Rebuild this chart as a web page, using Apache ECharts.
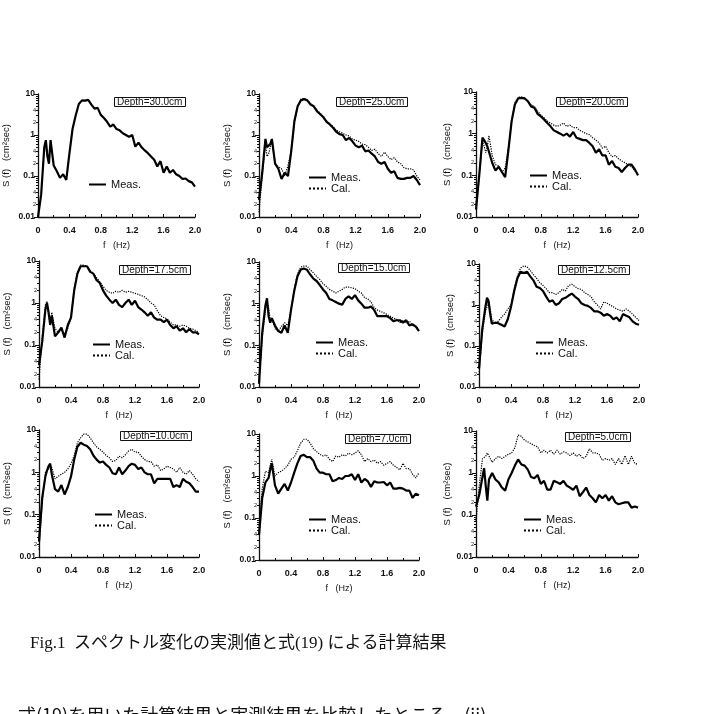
<!DOCTYPE html>
<html>
<head>
<meta charset="utf-8">
<script src="https://cdn.jsdelivr.net/npm/echarts@6/dist/echarts.min.js"></script>
<style>
  html, body { margin: 0; padding: 0; background: #fff; }
  #chart { width: 708px; height: 714px; }
</style>
</head>
<body>
<div id="chart"></div>
<script>
// frequency samples (Hz), shared by every curve
const freq = [0, 0.04, 0.08, 0.1, 0.12, 0.14, 0.16, 0.2, 0.24, 0.28, 0.32, 0.36, 0.4, 0.44, 0.48, 0.52, 0.56, 0.6,
  0.64, 0.68, 0.72, 0.76, 0.8, 0.84, 0.88, 0.92, 0.96, 1.0, 1.04, 1.08, 1.12, 1.16, 1.2, 1.24, 1.28, 1.32, 1.36,
  1.4, 1.44, 1.48, 1.52, 1.56, 1.6, 1.64, 1.68, 1.72, 1.76, 1.8, 1.84, 1.88, 1.92, 1.96, 2.0]

const depths = ['Depth=30.0cm', 'Depth=25.0cm', 'Depth=20.0cm', 'Depth=17.5cm', 'Depth=15.0cm',
  'Depth=12.5cm', 'Depth=10.0cm', 'Depth=7.0cm', 'Depth=5.0cm']

const xTicks = [0, 0.4, 0.8, 1.2, 1.6, 2.0]
const yMinorLabels = [0.02, 0.04, 0.2, 0.4, 2, 4]
const yMinorTicks = [0.02, 0.03, 0.04, 0.05, 0.06, 0.07, 0.08, 0.09, 0.2, 0.3, 0.4, 0.5, 0.6, 0.7, 0.8, 0.9,
  2, 3, 4, 5, 6, 7, 8, 9]

// S(f) in cm^2 sec
const meas30 = [0.01, 0.035, 0.5, 0.75, 0.3, 0.2, 0.75, 0.18, 0.13, 0.09, 0.11, 0.08, 0.35, 1.4, 3.0, 5.7, 7, 6.9,
  7.2, 5.5, 4.4, 4.6, 3.1, 2.6, 2.1, 1.6, 1.8, 1.4, 1.3, 1.1, 1.0, 0.9, 1.0, 0.52, 0.65, 0.5, 0.42, 0.36, 0.3,
  0.25, 0.17, 0.23, 0.12, 0.17, 0.12, 0.14, 0.11, 0.1, 0.085, 0.087, 0.075, 0.07, 0.055]

const meas25 = [0.026, 0.12, 0.8, 0.5, 0.45, 0.6, 0.8, 0.2, 0.15, 0.085, 0.12, 0.1, 0.4, 2.2, 5, 7, 7.5, 7,
  5.5, 5, 3.8, 3.2, 2.7, 2.1, 1.8, 1.5, 1.2, 1.05, 1.0, 0.75, 0.85, 0.7, 0.55, 0.5, 0.55, 0.4, 0.42, 0.35, 0.3,
  0.22, 0.2, 0.22, 0.15, 0.12, 0.13, 0.09, 0.085, 0.085, 0.09, 0.09, 0.1, 0.08, 0.06]
const cal25 = [0.013, 0.1, 0.6, 0.3, 0.35, 0.5, 0.7, 0.2, 0.17, 0.15, 0.1, 0.18, 0.4, 2.0, 4.8, 7.5, 7.8, 7,
  6, 5, 4, 3.4, 2.8, 2.2, 1.9, 1.6, 1.3, 1.2, 1.1, 1.0, 0.95, 0.8, 0.75, 0.7, 0.6, 0.58, 0.5, 0.42, 0.45,
  0.35, 0.3, 0.38, 0.3, 0.25, 0.28, 0.22, 0.2, 0.16, 0.15, 0.15, 0.14, 0.1, 0.08]

const meas20 = [0.015, 0.1, 0.8, 0.7, 0.6, 0.5, 0.45, 0.2, 0.13, 0.16, 0.12, 0.09, 0.4, 2, 5, 7, 7.2, 7,
  6, 4.5, 4.2, 3, 2.6, 2.2, 1.8, 1.5, 1.2, 1.1, 1.0, 0.9, 1.0, 0.85, 1.1, 0.8, 0.75, 0.7, 0.7, 0.6, 0.5,
  0.35, 0.42, 0.3, 0.3, 0.18, 0.22, 0.16, 0.15, 0.12, 0.15, 0.18, 0.18, 0.14, 0.1]
const cal20 = [0.02, 0.1, 0.7, 0.5, 0.35, 0.5, 0.9, 0.3, 0.18, 0.17, 0.12, 0.15, 0.45, 2, 5.5, 7.5, 7.5, 7.2,
  6, 5, 4.5, 3.5, 2.8, 2.4, 2.0, 1.8, 1.6, 1.5, 1.6, 1.8, 1.5, 1.6, 1.4, 1.4, 1.2, 1.1, 1.0, 0.95, 0.8,
  0.7, 0.6, 0.45, 0.5, 0.35, 0.28, 0.3, 0.25, 0.22, 0.2, 0.18, 0.16, 0.13, 0.1]

const meas175 = [0.033, 0.12, 0.7, 1.0, 0.6, 0.3, 0.5, 0.16, 0.2, 0.26, 0.15, 0.3, 0.45, 2.0, 5, 7.5, 7.5, 7.5,
  5.5, 5.0, 3.5, 3.0, 2.0, 1.5, 1.2, 1.0, 1.2, 0.9, 0.8, 1.0, 1.2, 0.9, 1.13, 0.8, 0.7, 0.6, 0.5, 0.6, 0.45,
  0.4, 0.4, 0.35, 0.4, 0.3, 0.25, 0.28, 0.22, 0.25, 0.2, 0.24, 0.2, 0.2, 0.18]
const cal175 = [0.015, 0.15, 0.9, 1.1, 0.5, 0.35, 0.6, 0.25, 0.2, 0.22, 0.18, 0.25, 0.45, 2.2, 5.5, 8, 8, 7.5,
  6, 5, 4, 3.2, 2.5, 2.0, 1.8, 1.7, 1.9, 1.8, 2.0, 1.8, 1.9, 1.8, 1.7, 1.6, 1.5, 1.4, 1.2, 1.0, 0.9,
  0.65, 0.5, 0.45, 0.42, 0.35, 0.3, 0.3, 0.28, 0.3, 0.28, 0.25, 0.24, 0.22, 0.2]

const meas15 = [0.012, 0.2, 0.9, 1.35, 0.5, 0.35, 0.45, 0.3, 0.22, 0.2, 0.3, 0.2, 0.7, 2.0, 4.5, 6.5, 7, 6.5,
  5, 4, 3.5, 2.8, 2.2, 1.8, 1.3, 1.2, 1.1, 1.0, 0.95, 1.3, 1.5, 1.3, 1.6, 1.2, 1.0, 0.8, 0.8, 0.85, 0.7,
  0.5, 0.5, 0.5, 0.5, 0.45, 0.38, 0.4, 0.4, 0.35, 0.4, 0.3, 0.32, 0.28, 0.22]
const cal15 = [0.015, 0.15, 0.7, 1.1, 0.8, 0.4, 0.45, 0.25, 0.22, 0.28, 0.35, 0.3, 0.7, 2.2, 5, 7.5, 8, 8,
  6.5, 5.5, 4.5, 3.8, 3.0, 2.6, 2.2, 2.0, 1.8, 2.0, 2.2, 2.5, 2.5, 2.4, 2.3, 2.0, 1.8, 1.4, 1.3, 1.1, 0.8,
  0.7, 0.65, 0.6, 0.55, 0.5, 0.45, 0.42, 0.35, 0.4, 0.35, 0.38, 0.3, 0.28, 0.25]

const meas125 = [0.028, 0.25, 0.9, 1.5, 1.2, 0.6, 0.35, 0.37, 0.36, 0.33, 0.3, 0.45, 0.9, 2.2, 4.5, 6.5, 6, 6.5,
  5, 4, 2.8, 2.6, 2.2, 1.6, 1.2, 1.3, 1.0, 1.1, 1.4, 1.5, 1.7, 1.9, 1.6, 1.4, 1.1, 1.0, 0.95, 0.85, 0.7,
  0.7, 0.65, 0.55, 0.6, 0.55, 0.45, 0.5, 0.4, 0.6, 0.55, 0.5, 0.4, 0.35, 0.33]
const cal125 = [0.02, 0.2, 0.7, 0.9, 1.4, 0.8, 0.45, 0.35, 0.4, 0.5, 0.6, 0.8, 1.0, 2.5, 5, 8, 9, 8.5,
  7, 5.5, 4.5, 3.5, 3.0, 2.5, 2.0, 2.0, 1.8, 2.0, 2.4, 2.2, 3.0, 3.2, 2.8, 2.5, 2.4, 2.0, 1.8, 1.6, 1.2,
  1.0, 0.8, 1.2, 1.1, 1.0, 0.9, 0.8, 0.75, 0.7, 0.8, 0.7, 0.6, 0.5, 0.42]

const meas10 = [0.023, 0.25, 0.8, 1.1, 1.4, 1.6, 0.9, 0.4, 0.35, 0.5, 0.3, 0.45, 0.8, 2, 4, 5, 4.5, 4.2,
  3.5, 2.5, 2.0, 1.7, 1.8, 1.5, 1.3, 0.95, 0.9, 1.3, 0.9, 1.1, 1.4, 1.6, 1.5, 1.2, 1.3, 1.0, 0.9, 0.9, 0.55,
  0.7, 0.7, 0.7, 0.7, 0.7, 0.45, 0.5, 0.45, 0.7, 0.6, 0.55, 0.45, 0.35, 0.35]
const cal10 = [0.015, 0.2, 1.0, 1.1, 1.2, 1.5, 1.3, 0.7, 0.8, 0.9, 1.0, 1.2, 1.6, 2.5, 5, 6.5, 8, 8,
  6.5, 5, 4, 3.5, 3.0, 2.5, 2.2, 1.8, 1.9, 2.4, 2.2, 2.6, 3.2, 3.5, 3.0, 3.0, 2.4, 2.0, 1.8, 1.8, 1.4,
  1.5, 1.1, 1.2, 1.4, 1.3, 1.2, 1.0, 1.3, 1.0, 0.9, 1.1, 0.9, 0.7, 0.6]

const meas7 = [0.039, 0.3, 0.7, 0.8, 0.9, 1.4, 2.0, 0.6, 0.38, 0.5, 0.65, 0.45, 0.7, 1.2, 2.0, 3.0, 3.2, 2.8,
  2.8, 2.3, 1.5, 1.2, 1.2, 1.1, 1.1, 0.75, 0.8, 0.9, 0.85, 1.0, 1.0, 1.1, 0.8, 1.1, 0.7, 0.85, 0.75, 0.55, 0.75,
  0.7, 0.7, 0.72, 0.6, 0.7, 0.5, 0.5, 0.52, 0.5, 0.45, 0.45, 0.3, 0.38, 0.35]
const cal7 = [0.05, 0.5, 1.3, 1.2, 1.2, 1.8, 2.5, 1.0, 1.2, 1.3, 1.5, 1.8, 2.5, 2.8, 4, 6, 7.5, 7.5,
  6, 4.5, 3.8, 3.3, 3.0, 3.2, 2.5, 2.2, 3.0, 2.8, 3.2, 3.0, 3.5, 3.2, 3.5, 4.0, 3.2, 2.2, 2.6, 2.2, 2.4,
  2.0, 2.2, 1.8, 2.0, 2.2, 1.8, 1.6, 1.4, 2.0, 1.5, 1.5, 1.1, 0.9, 1.2]

const meas5 = [0.16, 0.3, 0.8, 1.3, 0.5, 0.22, 0.7, 1.0, 0.7, 0.6, 0.45, 0.38, 0.7, 1.0, 1.5, 2.1, 1.6, 1.5,
  1.2, 0.8, 0.75, 0.9, 0.55, 0.65, 0.4, 0.4, 0.65, 0.6, 0.55, 0.65, 0.5, 0.45, 0.4, 0.5, 0.28, 0.35, 0.45, 0.3,
  0.25, 0.2, 0.3, 0.25, 0.3, 0.22, 0.28, 0.2, 0.18, 0.19, 0.2, 0.2, 0.15, 0.16, 0.15]
const cal5 = [0.07, 0.5, 2.2, 2.0, 2.5, 3.0, 3.2, 1.8, 2.2, 2.5, 2.2, 2.5, 2.8, 3.0, 4.0, 8.0, 7.5, 6.0,
  5.5, 5.0, 4.5, 4.2, 3.0, 3.5, 3.0, 3.5, 2.8, 3.5, 2.8, 3.2, 3.0, 2.6, 3.0, 2.5, 2.8, 2.2, 2.5, 3.8, 3.0,
  3.0, 2.8, 2.0, 2.2, 2.0, 2.2, 1.6, 2.2, 1.6, 2.6, 1.6, 2.5, 1.7, 1.6]

const measSets = [meas30, meas25, meas20, meas175, meas15, meas125, meas10, meas7, meas5]
const calSets = [null, cal25, cal20, cal175, cal15, cal125, cal10, cal7, cal5]

// panel placement: grid [left, top, width, height], depth box [left, top], legend [left, top]
const layout = [
  { grid: [34, 94, 161, 123], box: [114, 97], legend: [88, 179] },
  { grid: [259, 94, 161, 123], box: [336, 97], legend: [308, 172] },
  { grid: [476, 92, 162, 125], box: [556, 97], legend: [529, 170] },
  { grid: [39, 261, 160, 126], box: [119, 265], legend: [92, 339] },
  { grid: [259, 262, 160, 125], box: [338, 263], legend: [315, 337] },
  { grid: [479, 264, 160, 123], box: [558, 265], legend: [535, 337] },
  { grid: [39, 430, 160, 127], box: [120, 431], legend: [94, 509] },
  { grid: [259, 434, 160, 126], box: [345, 434], legend: [308, 514] },
  { grid: [476, 431, 162, 126], box: [565, 432], legend: [523, 514] },
]

const FONT = '"Liberation Sans", Arial, sans-serif'
const INK = '#111'

const grid = [], xAxis = [], yAxis = [], series = [], title = [], legend = []

layout.forEach((p, i) => {
  const [l, t, w, h] = p.grid
  grid.push({ left: l, top: t, width: w, height: h })

  xAxis.push({
    type: 'value', gridIndex: i, min: 0, max: 2, interval: 0.4,
    name: 'f   (Hz)', nameLocation: 'middle', nameGap: 24,
    nameTextStyle: { fontFamily: FONT, fontSize: 9, color: INK },
    axisLine: { lineStyle: { color: INK, width: 1.3 } },
    axisTick: { inside: true, length: 3, lineStyle: { color: INK } },
    minorTick: { show: true, splitNumber: 2, length: 2, lineStyle: { color: INK } },
    splitLine: { show: false },
    axisLabel: {
      fontFamily: FONT, fontSize: 9, fontWeight: 'bold', color: INK, margin: 9,
      formatter: v => (v === 0 ? '0' : v.toFixed(1)),
    },
  })

  yAxis.push({
    type: 'log', logBase: 10, gridIndex: i, min: 0.01, max: 10, position: 'left',
    name: 'S (f)   (cm\u00b2sec)', nameLocation: 'middle', nameGap: i % 3 === 2 ? 24 : 27,
    nameTextStyle: { fontFamily: FONT, fontSize: 9.5, color: INK },
    axisLine: { show: true, lineStyle: { color: INK, width: 1.3 } },
    axisTick: { length: 4, lineStyle: { color: INK } },
    splitLine: { show: false },
    axisLabel: { fontFamily: FONT, fontSize: 8.5, fontWeight: 'bold', color: INK, margin: 3 },
  })
  // minor decade ticks with the small 2 / 4 labels
  yAxis.push({
    type: 'log', logBase: 10, gridIndex: i, min: 0.01, max: 10, position: 'left', offset: 0,
    axisLine: { show: false },
    axisTick: { show: true, length: 2, customValues: yMinorTicks, lineStyle: { color: INK } },
    splitLine: { show: false },
    axisLabel: {
      fontFamily: FONT, fontSize: 5.5, color: INK, margin: 2,
      customValues: yMinorLabels,
      formatter: v => String(Math.round(v / Math.pow(10, Math.floor(Math.log10(v) + 1e-9)))),
    },
  })

  title.push({
    text: depths[i], left: p.box[0], top: p.box[1],
    borderWidth: 1, borderColor: INK, padding: [0, 3],
    textStyle: { fontFamily: FONT, fontSize: 10, fontWeight: 'normal', color: INK, lineHeight: 10 },
  })

  const names = calSets[i] ? ['Meas.', 'Cal.'] : ['Meas.']
  legend.push({
    data: names.map(n => ({ name: n })),
    orient: 'vertical', left: p.legend[0], top: p.legend[1],
    itemWidth: 17, itemHeight: 10, itemGap: 0, padding: 0,
    itemStyle: { opacity: 0, borderWidth: 0 },
    textStyle: { fontFamily: FONT, fontSize: 11, color: INK },
  })

  series.push({
    name: 'Meas.', type: 'line', xAxisIndex: i, yAxisIndex: 2 * i,
    data: freq.map((f, k) => [f, measSets[i][k]]),
    symbol: 'none', lineStyle: { color: '#000', width: 2.2 }, itemStyle: { color: '#000' },
  })
  if (calSets[i]) {
    series.push({
      name: 'Cal.', type: 'line', xAxisIndex: i, yAxisIndex: 2 * i,
      data: freq.map((f, k) => [f, calSets[i][k]]),
      symbol: 'none', lineStyle: { color: '#000', width: 1.2, type: 'dotted' }, itemStyle: { color: '#000' },
    })
  }
})

const chart = echarts.init(document.getElementById('chart'))
chart.setOption({
  animation: false,
  backgroundColor: '#fff',
  title, legend, grid, xAxis, yAxis, series,
  graphic: [
    {
      type: 'text', left: 30, top: 635,
      style: {
        text: 'Fig.1  スペクトル変化の実測値と式(19) による計算結果',
        font: '17px "Liberation Serif", "Noto Sans CJK JP", serif', fill: '#111',
      },
    },
    {
      type: 'text', left: 18, top: 706,
      style: {
        text: '式(19)を用いた計算結果と実測結果を比較したところ，(ii)',
        font: '18px "Noto Sans CJK JP", sans-serif', fill: '#111',
      },
    },
  ],
})
</script>
</body>
</html>
